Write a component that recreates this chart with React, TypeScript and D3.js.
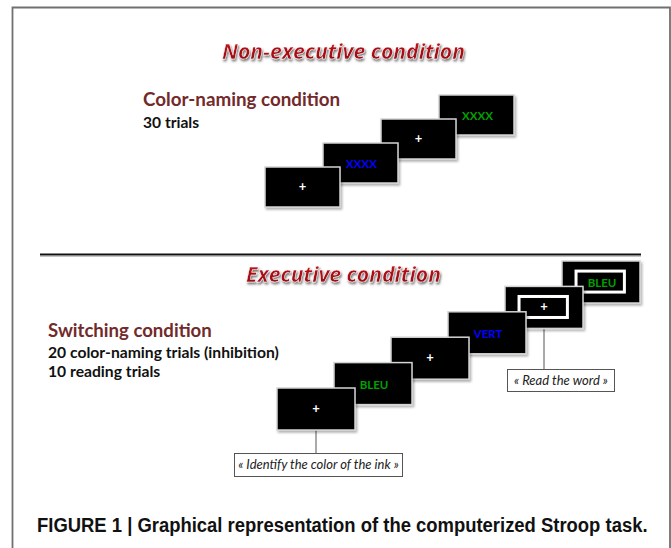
import * as React from "react"
import * as d3 from "d3"

// stimulus sequences (text shown on each screen, ink colour, framed = "read the word" cue)
const nonExecStimuli = ["+", "XXXX", "+", "XXXX"]
const nonExecInk = ["#ffffff", "#0000ff", "#ffffff", "#00a000"]

const execStimuli = ["+", "BLEU", "+", "VERT", "+", "BLEU"]
const execInk = ["#ffffff", "#00a000", "#ffffff", "#0000ff", "#ffffff", "#00a000"]
const execFramed = [false, false, false, false, true, true]

const nonExecLines = ["Color-naming condition", "30 trials"]
const execLines = ["Switching condition", "20 color-naming trials (inhibition)", "10 reading trials"]
const callouts = ["« Identify the color of the ink »", "« Read the word »"]
const caption = "FIGURE 1 | Graphical representation of the computerized Stroop task."

const W = 671
const H = 548
const BODY = "Lato, 'Open Sans', sans-serif"
const TITLE = "'Open Sans', Lato, sans-serif"

function Screen({ x, y, w, h, text, ink, framed }: any) {
    const plus = text === "+"
    return (
        <g transform={`translate(${x},${y})`}>
            <rect width={w} height={h} fill="#000" stroke="#d4d4d4" strokeWidth={1.5} filter="url(#scr-shadow)" />
            {framed && (
                <rect x={w * 0.18} y={h * 0.24} width={w * 0.62} height={h * 0.5}
                    fill="none" stroke="#fff" strokeWidth={3} />
            )}
            <text x={w / 2 + (plus ? 0 : 1)} y={h / 2 + (plus ? 4 : 5)}
                textAnchor="middle" fill={ink} fontFamily={BODY} fontWeight={700}
                fontSize={plus ? 13 : 11.5}>{text}</text>
        </g>
    )
}

export default function App() {
    const capRef = React.useRef<SVGTextElement>(null)
    const [capScale, setCapScale] = React.useState(1)

    // squeeze the caption into the width it takes in the figure
    React.useLayoutEffect(() => {
        if (!capRef.current) return
        const w = capRef.current.getComputedTextLength()
        if (w > 0) setCapScale(611 / w)
    }, [])

    // positions of the screen cascades
    const nx = d3.scaleLinear().domain([0, nonExecStimuli.length - 1]).range([265, 439])
    const ny = d3.scaleLinear().domain([0, nonExecStimuli.length - 1]).range([167, 95])
    const ex = d3.scaleLinear().domain([0, execStimuli.length - 1]).range([277, 562])
    const ey = d3.scaleLinear().domain([0, execStimuli.length - 1]).range([388, 261])

    const nIdx = d3.range(nonExecStimuli.length).reverse()
    const eIdx = d3.range(execStimuli.length).reverse()

    const eW = 78, eH = 42
    const firstCx = ex(0) + eW / 2
    const framedCx = ex(4) + eW / 2

    return (
        <svg width={W} height={H} style={{ position: "absolute", left: 0, top: 0, background: "#fff" }}>
            <defs>
                <filter id="scr-shadow" x="-10%" y="-10%" width="130%" height="140%">
                    <feDropShadow dx={1.5} dy={2} stdDeviation={1.2} floodColor="#000" floodOpacity={0.3} />
                </filter>
                <filter id="title-shadow" x="-5%" y="-20%" width="110%" height="160%">
                    <feDropShadow dx={1} dy={2} stdDeviation={1.1} floodColor="#555" floodOpacity={0.8} />
                </filter>
                <linearGradient id="title-grad" x1="0" x2="0" y1="0" y2="1">
                    <stop offset="0%" stopColor="#d0161d" />
                    <stop offset="100%" stopColor="#8c0b11" />
                </linearGradient>
            </defs>

            {/* page frame */}
            <path d={`M12.5,${H} V7.5 H670 V${H}`} fill="none" stroke="#707070" strokeWidth={1.8} />

            {/* section titles */}
            <text x={222} y={59} textLength={243} lengthAdjust="spacingAndGlyphs"
                fontFamily={TITLE} fontStyle="italic" fontWeight={700} fontSize={22}
                fill="url(#title-grad)" stroke="#fff" strokeWidth={0.5} filter="url(#title-shadow)">
                Non-executive condition
            </text>
            <text x={246} y={282} textLength={195} lengthAdjust="spacingAndGlyphs"
                fontFamily={TITLE} fontStyle="italic" fontWeight={700} fontSize={22}
                fill="url(#title-grad)" stroke="#fff" strokeWidth={0.5} filter="url(#title-shadow)">
                Executive condition
            </text>

            {/* condition descriptions */}
            <text fontFamily={BODY} fontWeight={700}>
                <tspan x={143} y={106} fontSize={18.8} fill="#722a2a">{nonExecLines[0]}</tspan>
                <tspan x={143} y={128} fontSize={15.6} fill="#111">{nonExecLines[1]}</tspan>
            </text>
            <text fontFamily={BODY} fontWeight={700}>
                <tspan x={48} y={337} fontSize={18.6} fill="#722a2a">{execLines[0]}</tspan>
                <tspan x={48} y={358} fontSize={15.7} fill="#111">{execLines[1]}</tspan>
                <tspan x={48} y={377} fontSize={15.7} fill="#111">{execLines[2]}</tspan>
            </text>

            {/* separator */}
            <line x1={40} x2={641} y1={254.5} y2={254.5} stroke="#111" strokeWidth={2} />
            <line x1={40} x2={641} y1={256.5} y2={256.5} stroke="#c4c4c4" strokeWidth={1} />

            {/* non-executive screens */}
            {nIdx.map(i => (
                <Screen key={"n" + i} x={nx(i)} y={ny(i)} w={75} h={40}
                    text={nonExecStimuli[i]} ink={nonExecInk[i]} framed={false} />
            ))}

            {/* callout connectors */}
            <line x1={firstCx} x2={firstCx} y1={ey(0) + eH} y2={453} stroke="#555" strokeWidth={1} />
            <line x1={framedCx} x2={framedCx} y1={ey(4) + eH} y2={369} stroke="#555" strokeWidth={1} />

            {/* executive screens */}
            {eIdx.map(i => (
                <Screen key={"e" + i} x={ex(i)} y={ey(i)} w={eW} h={eH}
                    text={execStimuli[i]} ink={execInk[i]} framed={execFramed[i]} />
            ))}

            {/* callout boxes */}
            <rect x={234.5} y={453.5} width={168} height={23} fill="#fff" stroke="#555" strokeWidth={1} />
            <text x={318.5} y={469} textAnchor="middle" fontFamily={BODY} fontStyle="italic"
                fontSize={13} fill="#222">{callouts[0]}</text>
            <rect x={507.5} y={369.5} width={107} height={22} fill="#fff" stroke="#555" strokeWidth={1} />
            <text x={561} y={385} textAnchor="middle" fontFamily={BODY} fontStyle="italic"
                fontSize={13} fill="#222">{callouts[1]}</text>

            {/* caption */}
            <g transform={`translate(37,532) scale(${capScale},1)`}>
                <text ref={capRef} x={0} y={0}
                    fontFamily="'Liberation Sans Narrow', 'Liberation Sans', Arial, sans-serif"
                    fontWeight={700} fontSize={21} fill="#111">{caption}</text>
            </g>
        </svg>
    )
}
